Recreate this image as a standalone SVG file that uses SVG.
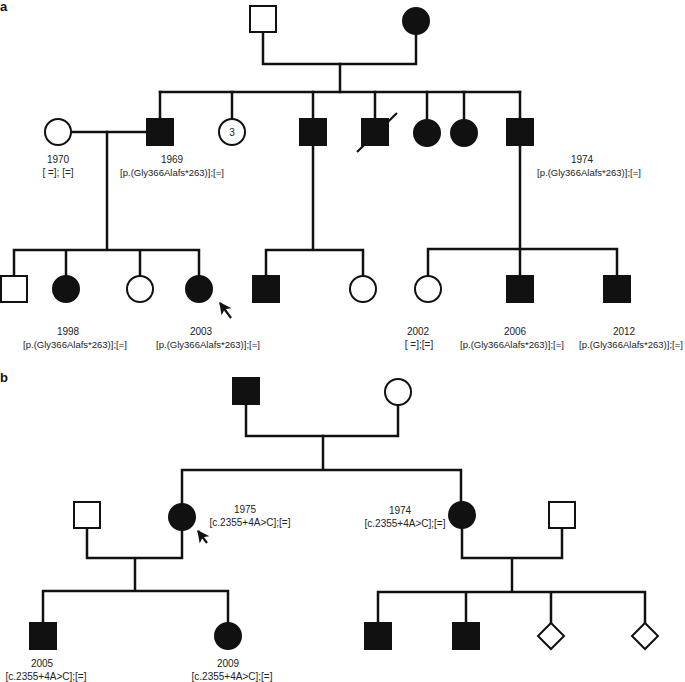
<svg xmlns="http://www.w3.org/2000/svg" width="685" height="682" viewBox="0 0 685 682">
<defs>
<style>
.ln{fill:none;stroke:#111;stroke-width:2.5;stroke-linecap:square}
.aff{fill:#111;stroke:#111;stroke-width:2}
.un{fill:#fff;stroke:#111;stroke-width:2}
.t{font-family:"Liberation Sans",Arial,sans-serif;font-size:10px;fill:#222;text-anchor:middle}
.g{font-size:9.5px}
.pl{font-family:"Liberation Sans",Arial,sans-serif;font-size:13px;font-weight:bold;fill:#111}
.pr{stroke:#111;stroke-width:2.2;fill:none}
</style>
<marker id="arr" viewBox="0 0 10 10" refX="9" refY="5" markerWidth="5.5" markerHeight="5.5" orient="auto" markerUnits="strokeWidth">
<path d="M0,0 L10,5 L0,10 L2.5,5 Z" fill="#111"/>
</marker>
</defs>
<rect width="685" height="682" fill="#fff"/>
<text class="pl" x="0" y="11">a</text>
<text class="pl" x="0" y="382">b</text>

<g id="connectors">
<!-- panel a -->
<path class="ln" d="M263,32 V64 H416 V34"/>
<path class="ln" d="M340,64 V92"/>
<path class="ln" d="M160,92 H520"/>
<path class="ln" d="M160,92 V120 M232,92 V119 M313,92 V120 M375,92 V120 M427,92 V120 M464,92 V120 M520,92 V120"/>
<path class="ln" d="M71,132 H147"/>
<path class="ln" d="M107,132 V250 M14,250 H199 M14,250 V276 M66,250 V276 M140,250 V276 M199,250 V276"/>
<path class="ln" d="M313,145 V250 M266,250 H363 M266,250 V276 M363,250 V276"/>
<path class="ln" d="M520,145 V249 M428,249 H617 M428,249 V276 M520,249 V276 M617,249 V276"/>
<!-- panel b -->
<path class="ln" d="M246,404 V436 H398 V405"/>
<path class="ln" d="M323,436 V470 M182,470 H461 M182,470 V504 M461,470 V502"/>
<path class="ln" d="M87,528 V558 H182 V530 M135,558 V591 M43,591 H228 M43,591 V623 M228,591 V623"/>
<path class="ln" d="M462,528 V558 H562 V528 M512,558 V592 M378,592 H645 M378,592 V623 M466,592 V623 M551,592 V623 M645,592 V623"/>
</g>

<!-- panel a generation I -->
<g id="a-I1"><rect class="un" x="250" y="6" width="26" height="26"/></g>
<g id="a-I2"><circle class="aff" cx="416" cy="21" r="13"/></g>

<!-- panel a generation II -->
<g id="a-II-spouse"><circle class="un" cx="58" cy="132" r="13"/>
<text class="t" x="58" y="163">1970</text><text class="t" x="58" y="176">[ =]; [=]</text></g>
<g id="a-II1"><rect class="aff" x="147" y="119" width="26" height="26"/>
<text class="t" x="172" y="163">1969</text><text class="t g" x="172" y="176">[p.(Gly366Alafs*263)];[=]</text></g>
<g id="a-II2"><circle class="un" cx="232" cy="132" r="13"/><text class="t" x="232" y="136">3</text></g>
<g id="a-II3"><rect class="aff" x="300" y="119" width="26" height="26"/></g>
<g id="a-II4"><line class="pr" x1="357" y1="152" x2="397" y2="113"/><rect class="aff" x="362" y="119" width="26" height="26"/></g>
<g id="a-II5"><circle class="aff" cx="427" cy="133" r="13"/></g>
<g id="a-II6"><circle class="aff" cx="464" cy="133" r="13"/></g>
<g id="a-II7"><rect class="aff" x="507" y="119" width="26" height="26"/>
<text class="t" x="582" y="163">1974</text><text class="t g" x="589" y="176">[p.(Gly366Alafs*263)];[=]</text></g>

<!-- panel a generation III -->
<g id="a-III1"><rect class="un" x="1" y="276" width="26" height="26"/></g>
<g id="a-III2"><circle class="aff" cx="66" cy="289" r="13"/>
<text class="t" x="68" y="335">1998</text><text class="t g" x="75" y="348">[p.(Gly366Alafs*263)];[=]</text></g>
<g id="a-III3"><circle class="un" cx="140" cy="289" r="13"/></g>
<g id="a-III4"><circle class="aff" cx="199" cy="289" r="13"/>
<line class="pr" x1="231" y1="318" x2="220" y2="303" marker-end="url(#arr)"/>
<text class="t" x="201" y="335">2003</text><text class="t g" x="208" y="348">[p.(Gly366Alafs*263)];[=]</text></g>
<g id="a-III5"><rect class="aff" x="253" y="276" width="26" height="26"/></g>
<g id="a-III6"><circle class="un" cx="363" cy="289" r="13"/></g>
<g id="a-III7"><circle class="un" cx="428" cy="289" r="13"/>
<text class="t" x="418" y="335">2002</text><text class="t" x="419" y="348">[ =];[=]</text></g>
<g id="a-III8"><rect class="aff" x="507" y="276" width="26" height="26"/>
<text class="t" x="515" y="335">2006</text><text class="t g" x="512" y="348">[p.(Gly366Alafs*263)];[=]</text></g>
<g id="a-III9"><rect class="aff" x="604" y="276" width="26" height="26"/>
<text class="t" x="624" y="335">2012</text><text class="t g" x="631" y="348">[p.(Gly366Alafs*263)];[=]</text></g>

<!-- panel b generation I -->
<g id="b-I1"><rect class="aff" x="233" y="378" width="26" height="26"/></g>
<g id="b-I2"><circle class="un" cx="398" cy="392" r="13"/></g>

<!-- panel b generation II -->
<g id="b-II-spouse1"><rect class="un" x="74" y="502" width="26" height="26"/></g>
<g id="b-II1"><circle class="aff" cx="182" cy="517" r="13"/>
<line class="pr" x1="207" y1="543" x2="198" y2="531" marker-end="url(#arr)"/>
<text class="t" x="245" y="513">1975</text><text class="t" x="250" y="526">[c.2355+4A&gt;C];[=]</text></g>
<g id="b-II2"><circle class="aff" cx="462" cy="515" r="13"/>
<text class="t" x="400" y="514">1974</text><text class="t" x="405" y="527">[c.2355+4A&gt;C];[=]</text></g>
<g id="b-II-spouse2"><rect class="un" x="549" y="502" width="26" height="26"/></g>

<!-- panel b generation III -->
<g id="b-III1"><rect class="aff" x="30" y="623" width="26" height="26"/>
<text class="t" x="42" y="667">2005</text><text class="t" x="46" y="680">[c.2355+4A&gt;C];[=]</text></g>
<g id="b-III2"><circle class="aff" cx="228" cy="636" r="13"/>
<text class="t" x="228" y="667">2009</text><text class="t" x="232" y="680">[c.2355+4A&gt;C];[=]</text></g>
<g id="b-III3"><rect class="aff" x="365" y="623" width="26" height="26"/></g>
<g id="b-III4"><rect class="aff" x="453" y="623" width="26" height="26"/></g>
<g id="b-III5"><path class="un" d="M551,623 L564,636 L551,649 L538,636 Z"/></g>
<g id="b-III6"><path class="un" d="M645,623 L658,636 L645,649 L632,636 Z"/></g>
</svg>
